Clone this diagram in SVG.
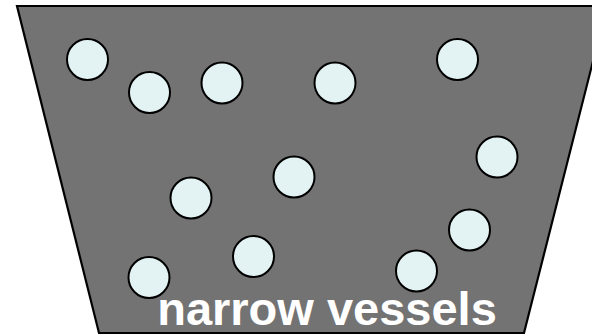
<svg xmlns="http://www.w3.org/2000/svg" width="592" height="336" viewBox="0 0 592 336">
<style>
.v{fill:#737373;stroke:#000;stroke-width:2.2;stroke-linejoin:miter}
.c{fill:#e3f3f3;stroke:#000;stroke-width:2}
.t{font-family:"Liberation Sans",Arial,sans-serif;font-weight:bold;font-size:47px;fill:#fff}
</style>
<rect width="592" height="336" fill="#fff"/>
<g id="vessel"><polygon class="v" points="17,6 607,6 524,333 99,333"/></g>
<g id="cells">
<circle class="c" cx="87.5" cy="59.5" r="20.5"/>
<circle class="c" cx="149.5" cy="92.5" r="20.5"/>
<circle class="c" cx="222" cy="83" r="20.5"/>
<circle class="c" cx="335" cy="83" r="20.5"/>
<circle class="c" cx="457.5" cy="59.5" r="20.5"/>
<circle class="c" cx="497" cy="157" r="20.5"/>
<circle class="c" cx="294" cy="177" r="20.5"/>
<circle class="c" cx="191" cy="198" r="20.5"/>
<circle class="c" cx="469.5" cy="230" r="20.5"/>
<circle class="c" cx="253.5" cy="256.5" r="20.5"/>
<circle class="c" cx="149" cy="277.5" r="20.5"/>
<circle class="c" cx="416.5" cy="271" r="20.5"/>
</g>
<text class="t" x="327" y="325" text-anchor="middle">narrow vessels</text>
</svg>
